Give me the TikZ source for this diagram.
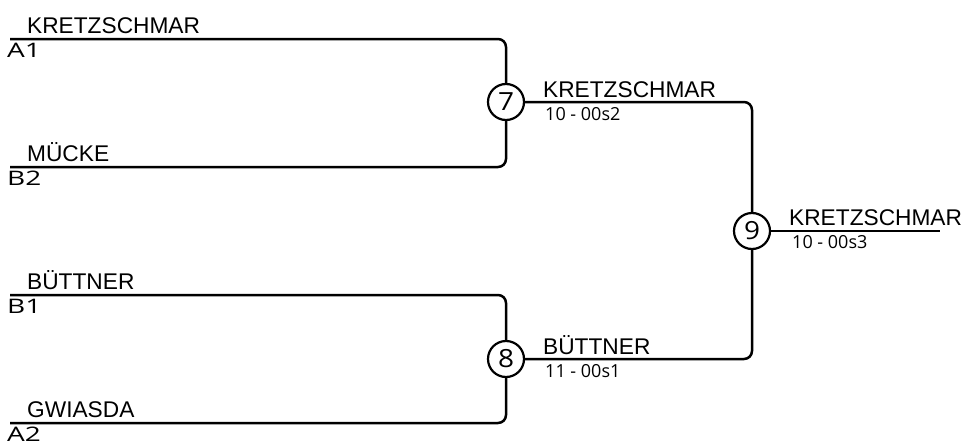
\documentclass[tikz,border=0pt]{standalone}
\usepackage{fontspec}
\setmainfont{Liberation Sans}
\newfontfamily\opensans{Open Sans}
\newfontfamily\seedfont[FakeStretch=1.4]{Open Sans}
\newfontfamily\circfont[FakeStretch=1.12]{Open Sans}
\begin{document}
\begin{tikzpicture}[x=1pt,y=-1pt,
  bline/.style={line width=2.5pt, rounded corners=8pt},
  pname/.style={anchor=base west, inner sep=0pt, font=\fontsize{22.7}{23}\selectfont},
  seed/.style={anchor=base west, inner sep=0pt, font=\seedfont\fontsize{20}{21}\selectfont},
  score/.style={anchor=base west, inner sep=0pt, font=\opensans\fontsize{18}{19}\selectfont},
  match/.style={circle, draw, line width=2.2pt, minimum size=36pt, inner sep=0pt, fill=white, font=\circfont\fontsize{25}{26}\selectfont}]
\useasboundingbox (0,0) rectangle (964,447);
% match circles
\node[match] (m7) at (506,102) {7};
\node[match] (m8) at (506,359) {8};
\node[match] (m9) at (752,231) {9};
% line start points
\coordinate (a1) at (10,39);
\coordinate (b2) at (10,167);
\coordinate (b1) at (10,295);
\coordinate (a2) at (10,423);
\coordinate (out) at (940,231);
% connectors
\draw[bline] (a1) -| (m7.north);
\draw[bline] (b2) -| (m7.south);
\draw[bline] (b1) -| (m8.north);
\draw[bline] (a2) -| (m8.south);
\draw[bline] (m7.east) -| (m9.north);
\draw[bline] (m8.east) -| (m9.south);
\draw[bline] (m9.east) -- (out);
% texts
\node[pname] (t1) at (27,33) {KRETZSCHMAR};
\node[seed] (s1) at (7,57) {A1};
\node[pname] (t2) at (27,161) {MÜCKE};
\node[seed] (s2) at (7,185) {B2};
\node[pname] (t3) at (27,289) {BÜTTNER};
\node[seed] (s3) at (7,313) {B1};
\node[pname] (t4) at (27,417) {GWIASDA};
\node[seed] (s4) at (7,441) {A2};
\node[pname] (w7) at (543,97) {KRETZSCHMAR};
\node[score] (c7) at (545,120) {10 - 00s2};
\node[pname] (w8) at (543,354) {BÜTTNER};
\node[score] (c8) at (545,377) {11 - 00s1};
\node[pname] (w9) at (789,225) {KRETZSCHMAR};
\node[score] (c9) at (792,248) {10 - 00s3};
\end{tikzpicture}
\end{document}
